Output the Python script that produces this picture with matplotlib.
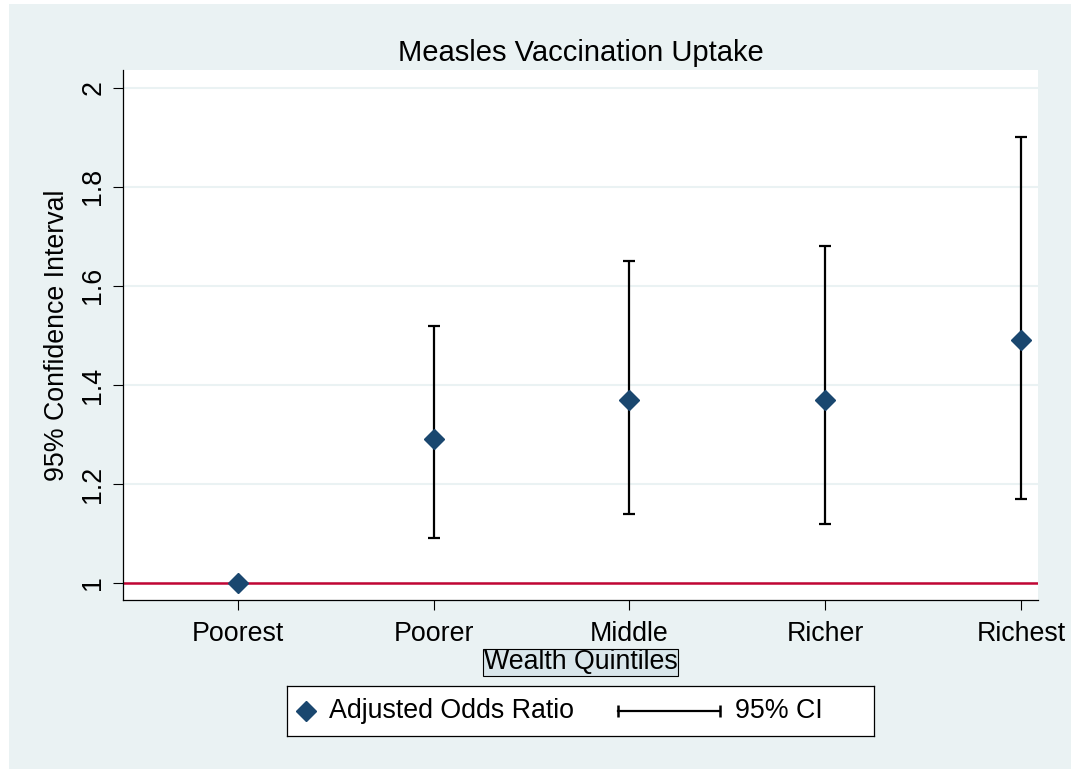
import matplotlib
matplotlib.use("Agg")
import matplotlib.pyplot as plt
import numpy as np
from matplotlib.patches import Rectangle

plt.rcParams["font.family"] = ["Liberation Sans", "DejaVu Sans"]

# data
quintiles = ["Poorest", "Poorer", "Middle", "Richer", "Richest"]
odds_ratio = [1.0, 1.29, 1.37, 1.37, 1.49]
ci_low = [np.nan, 1.09, 1.14, 1.12, 1.17]
ci_high = [np.nan, 1.52, 1.65, 1.68, 1.90]
y_ticks = [1.0, 1.2, 1.4, 1.6, 1.8, 2.0]
y_tick_labels = ["1", "1.2", "1.4", "1.6", "1.8", "2"]

W, H = 1071, 769
BG = "#eaf2f3"
NAVY = "#1a476f"
RED = "#c10534"
FS = 19.3

fig = plt.figure(figsize=(W / 100, H / 100), dpi=100, facecolor="white")
fig.patches.append(Rectangle((9 / W, 0), 1 - 9 / W, 1 - 4 / H,
                             transform=fig.transFigure, facecolor=BG,
                             edgecolor="none", zorder=-10))

ax = fig.add_axes([123 / W, (H - 600) / H, (1038 - 123) / W, (600 - 70) / H])
ax.set_facecolor("white")

x = np.arange(1, len(quintiles) + 1)
aor = np.array(odds_ratio)
lo = np.array(ci_low)
hi = np.array(ci_high)
has_ci = ~np.isnan(lo)

for yv in y_ticks:
    ax.axhline(yv, color=BG, lw=1.5, zorder=0)
ax.axhline(1.0, color=RED, lw=1.8, zorder=1)

ax.errorbar(x[has_ci], aor[has_ci],
            yerr=[aor[has_ci] - lo[has_ci], hi[has_ci] - aor[has_ci]],
            fmt="none", ecolor="black", elinewidth=1.6, capsize=4.5,
            capthick=1.6, zorder=2)
ax.plot(x, aor, linestyle="none", marker="D", markersize=10,
        color=NAVY, zorder=3)

ax.set_xlim(0.413, 5.087)
ax.set_ylim(0.9657, 2.036)
ax.set_xticks(x)
ax.set_xticklabels(quintiles, fontsize=FS)
ax.set_yticks(y_ticks)
ax.set_yticklabels(y_tick_labels, fontsize=FS, rotation=90, va="center")
ax.tick_params(axis="both", direction="out", length=7, width=0.8,
               color="black")
ax.tick_params(axis="x", pad=8)
ax.tick_params(axis="y", pad=5)
for side in ["top", "right"]:
    ax.spines[side].set_visible(False)
for side in ["left", "bottom"]:
    ax.spines[side].set_linewidth(0.9)

fig.text(580.5 / W, 1 - 53 / H, "Measles Vaccination Uptake", fontsize=21,
         ha="center", va="center")
ax.set_ylabel("95% Confidence Interval", fontsize=FS)
ax.yaxis.set_label_coords((57 - 123) / 915, 0.5)
ax.yaxis.label.set_verticalalignment("center")
ax.set_xlabel("Wealth Quintiles", fontsize=FS,
              bbox=dict(boxstyle="square,pad=0.03", facecolor="#d9e6eb",
                        edgecolor="black", linewidth=0.8))
ax.xaxis.set_label_coords(0.5, (600 - 662.5) / 530)
ax.xaxis.label.set_verticalalignment("center")

# legend drawn as its own small box
lax = fig.add_axes([287 / W, (H - 736) / H, 587 / W, 50 / H])
lax.set_xlim(0, 587)
lax.set_ylim(0, 50)
lax.set_xticks([])
lax.set_yticks([])
lax.set_facecolor("white")
for sp in lax.spines.values():
    sp.set_linewidth(0.9)
lax.plot([19], [25], marker="D", markersize=10, color=NAVY, linestyle="none")
lax.text(42, 25, "Adjusted Odds Ratio", fontsize=FS, va="center", ha="left")
lax.plot([331, 433], [25, 25], color="black", lw=1.6, marker="|",
         markersize=9, markeredgewidth=1.8)
lax.text(448, 25, "95% CI", fontsize=FS, va="center", ha="left")

fig.savefig("out.png", dpi=100, facecolor=fig.get_facecolor())
